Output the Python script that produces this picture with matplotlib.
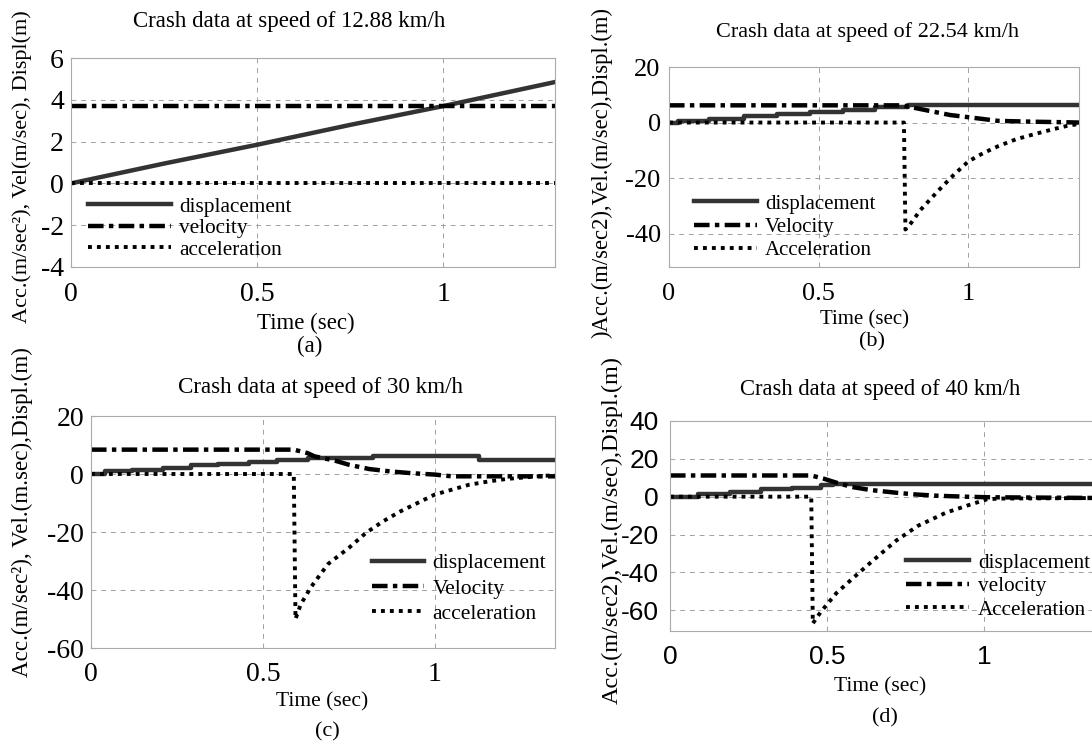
import matplotlib
matplotlib.use('Agg')
import matplotlib.pyplot as plt

plt.rcParams['font.family'] = 'Liberation Serif'
plt.rcParams['axes.unicode_minus'] = False

# ---- data ----
# (a) 12.88 km/h
ta_disp = [0, 0.25, 0.5, 0.75, 1.0, 1.30]
a_disp = [0, 0.95, 1.85, 2.8, 3.7, 4.85]
ta_vel = [0, 1.30]
a_vel = [3.7, 3.7]
ta_acc = [0, 1.30]
a_acc = [0, 0]

# (b) 22.54 km/h
tb_disp = [0, 0.03, 0.135, 0.25, 0.36, 0.47, 0.58, 0.69, 0.80, 1.37]
b_disp = [0, 0.5, 1.2, 2.2, 3.0, 3.9, 4.5, 5.5, 6.3, 6.3]
tb_vel = [0, 0.78, 0.82, 0.87, 0.94, 1.01, 1.10, 1.22, 1.33, 1.37]
b_vel = [6.2, 6.2, 5.3, 4.2, 2.7, 1.8, 0.6, 0.3, 0.1, 0.0]
tb_acc = [0, 0.785, 0.79, 0.81, 0.84, 0.87, 0.9, 0.95, 1.0, 1.05, 1.1, 1.16, 1.22, 1.28, 1.33, 1.37]
b_acc = [0, 0, -38.5, -36, -31.5, -28, -24.5, -19, -14, -11, -8.5, -6, -4.2, -2.5, -1.2, -0.5]

# (c) 30 km/h
tc_disp = [0, 0.04, 0.12, 0.21, 0.29, 0.37, 0.46, 0.54, 0.63, 0.82, 1.13, 1.35]
c_disp = [0, 0.9, 1.5, 2.0, 3.0, 3.4, 4.1, 4.8, 5.5, 6.3, 4.9, 4.9]
tc_vel = [0, 0.59, 0.63, 0.65, 0.71, 0.75, 0.81, 0.87, 0.93, 1.0, 1.05, 1.35]
c_vel = [8.4, 8.4, 7.2, 6.1, 4.6, 3.2, 1.7, 0.9, 0.3, -0.2, -0.8, -0.8]
tc_acc = [0, 0.59, 0.595, 0.61, 0.64, 0.69, 0.75, 0.80, 0.85, 0.90, 0.95, 1.0, 1.05, 1.1, 1.16, 1.21, 1.32, 1.35]
c_acc = [0, 0, -50, -45, -39, -31, -25.5, -20.3, -16.3, -12.9, -10, -7.1, -5.4, -3.7, -2.5, -1.7, -0.6, -0.5]

# (d) 40 km/h
td_disp = [0, 0.09, 0.19, 0.29, 0.39, 0.48, 0.52, 1.37]
d_disp = [0, 1.2, 2.5, 3.9, 4.7, 6.1, 6.8, 7.2]
td_vel = [0, 0.45, 0.49, 0.53, 0.58, 0.64, 0.72, 0.78, 0.85, 0.94, 1.01, 1.37]
d_vel = [11.2, 11.2, 9.5, 7.4, 5.1, 3.5, 2.1, 1.2, 0.5, 0.0, -0.3, -0.7]
td_acc = [0, 0.45, 0.455, 0.48, 0.53, 0.58, 0.64, 0.72, 0.79, 0.88, 0.96, 1.01, 1.05, 1.37]
d_acc = [0, 0, -67, -61, -51, -43.5, -34.7, -23.3, -15.4, -8.4, -4, -1.4, -1, -0.7]

W, H = 1092, 746
fig = plt.figure(figsize=(W / 100, H / 100), dpi=100)


def box(l, t, r, b):
    return [l / W, 1 - b / H, (r - l) / W, (b - t) / H]


def txt(x, y, s, size, **kw):
    fig.text(x / W, 1 - y / H, s, ha='center', va='center', fontsize=size, **kw)


vel_style = (0, (3.5, 1.2, 1.0, 1.2))
acc_style = (0, (1.0, 1.3))


def panel(rect, data, xlim, ylim, yticks, labels, steps, tick_size, pads,
          tick_font, leg_xy, leg):
    ax = fig.add_axes(box(*rect))
    (td, d), (tv, v), (tac, ac) = data
    ax.plot(td, d, color='#333333', lw=3.2, drawstyle='steps-post' if steps else 'default',
            label=labels[0])
    ax.plot(tv, v, color='black', lw=3.2, linestyle=vel_style, label=labels[1])
    ax.plot(tac, ac, color='black', lw=2.8, linestyle=acc_style, label=labels[2])
    ax.set_xlim(*xlim)
    ax.set_ylim(*ylim)
    ax.set_xticks([0, 0.5, 1])
    ax.set_xticklabels(['0', '0.5', '1'])
    ax.set_yticks(yticks)
    ax.grid(True, color='#a0a0a0', lw=0.7, linestyle=(0, (5, 5)))
    for s in ax.spines.values():
        s.set_color('#aaaaaa')
        s.set_linewidth(0.8)
    ax.tick_params(direction='in', length=3, color='#aaaaaa', labelsize=tick_size)
    ax.tick_params(axis='y', pad=pads[0])
    ax.tick_params(axis='x', pad=pads[1])
    for lab in ax.get_xticklabels() + ax.get_yticklabels():
        lab.set_family(tick_font)
    handlelen, spacing, fs = leg
    ax.legend(loc='upper left', bbox_to_anchor=(leg_xy[0] / W, 1 - leg_xy[1] / H),
              bbox_transform=fig.transFigure, frameon=False, borderpad=0,
              borderaxespad=0, handlelength=handlelen, handletextpad=0.4,
              labelspacing=spacing, fontsize=fs)
    return ax


panel((71, 58, 555, 267), [(ta_disp, a_disp), (ta_vel, a_vel), (ta_acc, a_acc)],
      (0, 1.30), (-4, 6), [-4, -2, 0, 2, 4, 6],
      ['displacement', 'velocity', 'acceleration'], False, 20, (5, 10.5),
      'Liberation Serif', (88, 197), (3.9, 0.07, 15.3))
panel((669, 67, 1079, 267), [(tb_disp, b_disp), (tb_vel, b_vel), (tb_acc, b_acc)],
      (0, 1.37), (-52, 20), [-40, -20, 0, 20],
      ['displacement', 'Velocity', 'Acceleration'], True, 19, (6, 11.5),
      'Liberation Serif', (694, 194), (3.0, 0.18, 15))
panel((91, 416, 555, 648), [(tc_disp, c_disp), (tc_vel, c_vel), (tc_acc, c_acc)],
      (0, 1.35), (-60, 20), [-60, -40, -20, 0, 20],
      ['displacement', 'Velocity', 'acceleration'], True, 20, (5, 10),
      'Liberation Serif', (372, 553), (2.4, 0.25, 15.5))
panel((670, 421, 1100, 631), [(td_disp, d_disp), (td_vel, d_vel), (td_acc, d_acc)],
      (0, 1.37), (-71, 40), [-60, -40, -20, 0, 20, 40],
      ['displacement', 'velocity', 'Acceleration'], True, 19, (8, 10.3),
      'Liberation Sans', (906, 553), (3.0, 0.17, 15.2))

# titles
txt(289, 21, 'Crash data at speed of 12.88 km/h', 16.5)
txt(868, 32, 'Crash data at speed of 22.54 km/h', 16)
txt(321, 388, 'Crash data at speed of 30 km/h', 16.6)
txt(880, 390, 'Crash data at speed of 40 km/h', 16.3)

# x labels and panel tags
txt(306, 323, 'Time (sec)', 16.5)
txt(310, 346, '(a)', 16.5)
txt(865, 320, 'Time (sec)', 15)
txt(872, 342, '(b)', 16)
txt(322, 702, 'Time (sec)', 15.5)
txt(327, 732, '(c)', 16)
txt(880, 687, 'Time (sec)', 15.5)
txt(885, 718, '(d)', 16)

# y labels
txt(22, 167, 'Acc.(m/sec²), Vel(m/sec), Displ(m)', 16, rotation=90)
txt(602, 172, ')Acc.(m/sec2),Vel.(m/sec),Displ.(m)', 16.3, rotation=90)
txt(22, 512, 'Acc.(m/sec²), Vel.(m.sec),Displ.(m)', 16.6, rotation=90)
txt(612, 530, 'Acc.(m/sec2),Vel.(m/sec),Displ.(m)', 17.5, rotation=90)

fig.savefig('out.png', dpi=100)
